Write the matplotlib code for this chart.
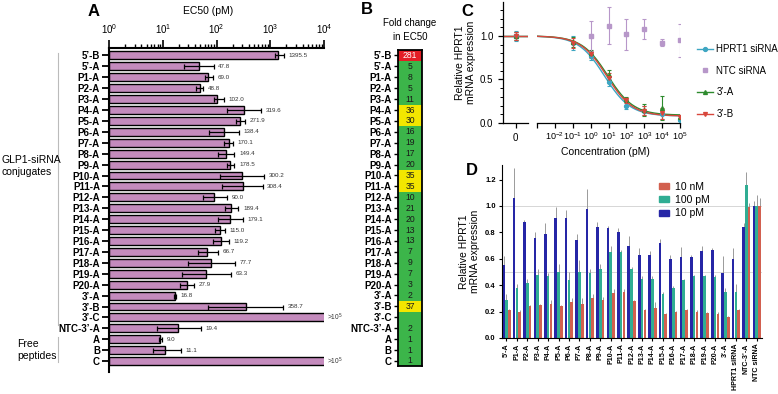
import numpy as np
import matplotlib
matplotlib.use('Agg')
import matplotlib.pyplot as plt
from matplotlib.ticker import LogLocator, NullFormatter, FixedLocator, MultipleLocator, FixedFormatter
from matplotlib.patches import Patch
from matplotlib.lines import Line2D

plt.rcParams['font.family'] = ['Liberation Sans', 'DejaVu Sans']
plt.rcParams['mathtext.fontset'] = 'custom'
plt.rcParams['mathtext.rm'] = 'Liberation Sans'
plt.rcParams['mathtext.it'] = 'Liberation Sans:italic'
plt.rcParams['mathtext.bf'] = 'Liberation Sans:bold'
plt.rcParams['mathtext.default'] = 'regular'

# ---------------- Panel A data ----------------
a_labels = ["5’-B", "5’-A", "P1-A", "P2-A", "P3-A", "P4-A", "P5-A", "P6-A", "P7-A", "P8-A",
            "P9-A", "P10-A", "P11-A", "P12-A", "P13-A", "P14-A", "P15-A", "P16-A", "P17-A",
            "P18-A", "P19-A", "P20-A", "3’-A", "3’-B", "3’-C", "NTC-3’-A", "A", "B", "C"]
ec50 = [1395.5, 47.8, 69.0, 48.8, 102.0, 319.6, 271.9, 138.4, 170.1, 149.4,
        178.5, 300.2, 308.4, 90.0, 189.4, 179.1, 115.0, 119.2, 66.7,
        77.7, 63.3, 27.9, 16.8, 358.7, 1e5, 19.4, 9.0, 11.1, 1e5]
ec50_lo = [1250, 25, 60, 42, 88, 155, 235, 72, 140, 108,
           160, 115, 125, 55, 145, 108, 95, 86, 45,
           29, 23, 21, 16.2, 70, np.nan, 7.7, 8.6, 6.5, np.nan]
ec50_hi = [1800, 88, 85, 57, 135, 680, 340, 265, 200, 215,
           215, 760, 720, 160, 255, 310, 142, 170, 107,
           220, 183, 38, 17.6, 1750, np.nan, 51, 9.6, 22, np.nan]
ec50_text = ["1395.5", "47.8", "69.0", "48.8", "102.0", "319.6", "271.9", "138.4", "170.1", "149.4",
             "178.5", "300.2", "308.4", "90.0", "189.4", "179.1", "115.0", "119.2", "66.7",
             "77.7", "63.3", "27.9", "16.8", "358.7", ">10$^5$", "19.4", "9.0", "11.1", ">10$^5$"]

# ---------------- Panel B data ----------------
fold_change = [281, 5, 8, 5, 11, 36, 30, 16, 19, 17, 20, 35, 35, 10, 21, 20, 13, 13, 7, 9, 7,
               3, 2, 37, np.nan, 2, 1, 1, 1]

# ---------------- Panel C data ----------------
conc = [0, 0.1, 1, 10, 100, 1000, 1e4, 1e5]
hprt_mean = [1.00, 0.92, 0.77, 0.47, 0.20, 0.14, 0.10, 0.04]
hprt_err = [0.06, 0.08, 0.05, 0.04, 0.04, 0.05, 0.05, 0.02]
a3_mean = [1.00, 0.93, 0.80, 0.55, 0.27, 0.15, 0.17, 0.07]
a3_err = [0.05, 0.06, 0.04, 0.06, 0.03, 0.07, 0.14, 0.02]
b3_mean = [1.00, 0.92, 0.79, 0.52, 0.26, 0.14, 0.11, 0.07]
b3_err = [0.05, 0.06, 0.04, 0.05, 0.03, 0.05, 0.06, 0.02]
ntc_conc = [0, 1, 10, 100, 1000, 1e4, 1e5]
ntc_mean = [1.00, 1.00, 1.12, 1.02, 1.08, 0.92, 0.95]
ntc_err = [0.05, 0.17, 0.21, 0.18, 0.12, 0.04, 0.19]
# fitted 4PL parameters: bottom, top, EC50 (pM), hill
fit_hprt = [0.08, 1.0, 6.0, 0.6]
fit_a3 = [0.09, 1.0, 9.0, 0.6]
fit_b3 = [0.08, 1.0, 8.0, 0.6]

# ---------------- Panel D data ----------------
d_labels = ["5’-A", "P1-A", "P2-A", "P3-A", "P4-A", "P5-A", "P6-A", "P7-A", "P8-A", "P9-A",
            "P10-A", "P11-A", "P12-A", "P13-A", "P14-A", "P15-A", "P16-A", "P17-A", "P18-A",
            "P19-A", "P20-A", "3’-A", "HPRT1 siRNA", "NTC-3’-A", "NTC siRNA"]
d_10pM = [0.55, 1.06, 0.88, 0.76, 0.79, 0.91, 0.91, 0.74, 0.98, 0.84, 0.83, 0.80, 0.70,
          0.63, 0.63, 0.72, 0.60, 0.61, 0.61, 0.66, 0.67, 0.49, 0.60, 0.84, 1.00]
d_10pM_err = [0.07, 0.23, 0.01, 0.04, 0.08, 0.08, 0.06, 0.05, 0.15, 0.04, 0.02, 0.03, 0.07,
              0.05, 0.03, 0.03, 0.03, 0.08, 0.02, 0.04, 0.01, 0.13, 0.08, 0.03, 0.04]
d_100pM = [0.29, 0.38, 0.42, 0.48, 0.47, 0.50, 0.44, 0.50, 0.49, 0.52, 0.65, 0.65, 0.52,
           0.45, 0.45, 0.33, 0.38, 0.44, 0.47, 0.47, 0.46, 0.35, 0.35, 1.16, 1.00]
d_100pM_err = [0.04, 0.03, 0.03, 0.04, 0.02, 0.06, 0.06, 0.09, 0.03, 0.04, 0.05, 0.02, 0.02,
               0.02, 0.02, 0.02, 0.01, 0.01, 0.01, 0.01, 0.02, 0.03, 0.06, 0.10, 0.08]
d_10nM = [0.21, 0.20, 0.24, 0.25, 0.26, 0.24, 0.27, 0.26, 0.30, 0.29, 0.34, 0.35, 0.28,
          0.21, 0.23, 0.18, 0.20, 0.21, 0.20, 0.19, 0.18, 0.16, 0.21, 0.99, 1.00]
d_10nM_err = [0.01, 0.01, 0.01, 0.01, 0.03, 0.01, 0.03, 0.04, 0.03, 0.02, 0.03, 0.02, 0.01,
              0.01, 0.04, 0.01, 0.005, 0.01, 0.01, 0.005, 0.02, 0.01, 0.01, 0.03, 0.06]

W, H = 778, 394
fig = plt.figure(figsize=(W / 100, H / 100), dpi=100)


def ax_px(l, t, r, b):
    return fig.add_axes([l / W, 1 - b / H, (r - l) / W, (b - t) / H])


# ================= Panel A =================
axA = ax_px(109, 48, 324, 372)
n = len(a_labels)
y = np.arange(n)
bar_col = '#c48bbd'
vals = np.array(ec50)
axA.barh(y, vals - 1, left=1, height=0.72, color=bar_col, edgecolor='black', linewidth=1.0, zorder=2)
lo = np.array(ec50_lo)
hi = np.array(ec50_hi)
m = ~np.isnan(lo)
axA.errorbar(vals[m], y[m], xerr=[vals[m] - lo[m], hi[m] - vals[m]], fmt='none', ecolor='black',
             elinewidth=0.9, capsize=1.8, capthick=0.9, zorder=3)
for i in range(n):
    if np.isnan(lo[i]):
        axA.text(1.015, y[i], ec50_text[i], transform=axA.get_yaxis_transform(), fontsize=4.8,
                 va='center', ha='left', color='#333333')
    else:
        axA.text(hi[i] * 1.22, y[i], ec50_text[i], fontsize=4.5, va='center', ha='left', color='#333333')
axA.set_xscale('log')
axA.set_xlim(1, 1e4)
axA.set_ylim(29.0, -0.68)
axA.xaxis.tick_top()
axA.xaxis.set_major_locator(LogLocator(base=10, numticks=10))
axA.xaxis.set_minor_locator(LogLocator(base=10, subs=np.arange(2, 10), numticks=20))
axA.xaxis.set_minor_formatter(NullFormatter())
axA.tick_params(axis='x', which='major', length=6, width=1.2, labelsize=7, pad=3, direction='out')
axA.tick_params(axis='x', which='minor', length=3, width=1.0, direction='out')
axA.set_yticks(y)
axA.set_yticklabels(a_labels, fontsize=7, fontweight='bold')
axA.tick_params(axis='y', length=5, width=1.3, pad=1.5)
for s in ['right', 'bottom']:
    axA.spines[s].set_visible(False)
for s in ['top', 'left']:
    axA.spines[s].set_linewidth(1.5)
fig.text(208 / W, 1 - 11 / H, 'EC50 (pM)', fontsize=7.5, ha='center', va='center')

fig.text(94 / W, 1 - 11 / H, 'A', fontsize=12, fontweight='bold', ha='center', va='center')

# group labels
fig.text(2 / W, 1 - 166 / H, 'GLP1-siRNA\nconjugates', fontsize=7.5, ha='left', va='center', linespacing=1.3)
fig.text(17 / W, 1 - 350 / H, 'Free\npeptides', fontsize=7.5, ha='left', va='center', linespacing=1.3)
fig.add_artist(Line2D([58 / W, 58 / W], [1 - 53 / H, 1 - 325 / H], color='#bbbbbb', lw=0.8))
fig.add_artist(Line2D([58 / W, 58 / W], [1 - 337 / H, 1 - 362 / H], color='#bbbbbb', lw=0.8))

# ================= Panel B =================
axB = ax_px(398, 50, 422, 366.4)
fc = np.array(fold_change, dtype=float)
green, yellow, red = '#3cb54a', '#f3e600', '#e41e26'
for i, v in enumerate(fc):
    if np.isnan(v) or v < 25:
        c = green
    elif v < 100:
        c = yellow
    else:
        c = red
    axB.add_patch(plt.Rectangle((0, i - 0.5), 1, 1, facecolor=c, edgecolor='none'))
    if not np.isnan(v):
        axB.text(0.5, i, f'{int(v)}', ha='center', va='center', fontsize=6.2,
                 color='white' if c == red else '#1a1a1a')
axB.set_xlim(0, 1)
axB.set_ylim(n - 0.5, -0.5)
axB.set_xticks([])
axB.set_yticks(y)
axB.set_yticklabels(a_labels, fontsize=7, fontweight='bold')
axB.tick_params(axis='y', length=3, width=1.0, pad=1.5)
for s in axB.spines.values():
    s.set_linewidth(1.3)
fig.text(367 / W, 1 - 9 / H, 'B', fontsize=12, fontweight='bold', ha='center', va='center')
fig.text(410 / W, 1 - 30 / H, 'Fold change\nin EC50', fontsize=7, ha='center', va='center', linespacing=1.4)

# ================= Panel C =================
c_hprt, c_ntc, c_a3, c_b3 = '#3ea6c2', '#b797c9', '#2e8b2e', '#d8473c'
axC0 = ax_px(503, 2, 528, 123)
axC1 = ax_px(537, 2, 680, 123)
ylimC = (0, 1.39)


def fourpl(x, p):
    b, t, ec, h = p
    return b + (t - b) / (1 + (x / ec) ** h)


xs = np.logspace(-3, 5, 300)
series = [(hprt_mean, hprt_err, c_hprt, 'o', fit_hprt, 'HPRT1 siRNA'),
          (a3_mean, a3_err, c_a3, '^', fit_a3, '3’-A'),
          (b3_mean, b3_err, c_b3, 'v', fit_b3, '3’-B')]
for mean, err, col, mk, fit, lab in series:
    axC1.plot(xs, fourpl(xs, fit), color=col, lw=1.0, zorder=2)
    axC0.plot([-1, 1], [fourpl(1e-6, fit)] * 2, color=col, lw=1.0, zorder=2)
    axC1.errorbar(conc[1:], mean[1:], yerr=err[1:], fmt=mk, color=col, ms=2.8, elinewidth=0.8,
                  capsize=1.5, capthick=0.8, zorder=3)
    axC0.errorbar([0], mean[:1], yerr=err[:1], fmt=mk, color=col, ms=2.8, elinewidth=0.8,
                  capsize=1.5, capthick=0.8, zorder=3)
axC1.errorbar(ntc_conc[1:], ntc_mean[1:], yerr=ntc_err[1:], fmt='s', color=c_ntc, ms=2.6,
              elinewidth=0.8, capsize=1.5, capthick=0.8, zorder=3)
axC0.errorbar([0], ntc_mean[:1], yerr=ntc_err[:1], fmt='s', color=c_ntc, ms=2.6,
              elinewidth=0.8, capsize=1.5, capthick=0.8, zorder=1)

axC0.set_xlim(-1, 1)
axC0.set_ylim(*ylimC)
axC0.set_xticks([0])
axC0.set_xticklabels(['0'])
axC0.set_yticks([0, 0.5, 1.0])
axC0.set_yticklabels(['0.0', '0.5', '1.0'])
axC0.yaxis.set_minor_locator(MultipleLocator(0.1))
axC0.tick_params(axis='both', which='major', labelsize=7, length=3.5, width=0.9)
axC0.tick_params(axis='y', which='minor', length=2, width=0.7)
for s in ['top', 'right']:
    axC0.spines[s].set_visible(False)
axC0.set_ylabel('Relative HPRT1\nmRNA expression', fontsize=7.5, labelpad=3, linespacing=1.1)

axC1.set_xscale('log')
axC1.set_xlim(1e-3, 1e5)
axC1.set_ylim(*ylimC)
dec = [1e-3, 1e-2, 1e-1, 1, 10, 100, 1e3, 1e4, 1e5]
axC1.xaxis.set_major_locator(FixedLocator(dec))
axC1.xaxis.set_major_formatter(FixedFormatter(['', '10$^{-2}$', '10$^{-1}$', '10$^0$', '10$^1$',
                                               '10$^2$', '10$^3$', '10$^4$', '10$^5$']))
axC1.xaxis.set_minor_locator(FixedLocator([]))
axC1.tick_params(axis='x', which='major', labelsize=6.5, length=3.5, width=0.9, pad=2)
axC1.set_yticks([])
for s in ['top', 'right', 'left']:
    axC1.spines[s].set_visible(False)
axC1.set_xlabel('Concentration (pM)', fontsize=7.5, labelpad=3)
axC1.xaxis.set_label_coords((605 - 537) / (680 - 537), -0.2)
for a in (axC0, axC1):
    a.spines['bottom'].set_linewidth(0.9)
axC0.spines['left'].set_linewidth(0.9)

leg_handles = [Line2D([], [], color=c_hprt, marker='o', ms=2.8, lw=1.0),
               Line2D([], [], color=c_ntc, marker='s', ms=2.6, lw=0),
               Line2D([], [], color=c_a3, marker='^', ms=2.8, lw=1.0),
               Line2D([], [], color=c_b3, marker='v', ms=2.8, lw=1.0)]
fig.legend(leg_handles, ['HPRT1 siRNA', 'NTC siRNA', '3’-A', '3’-B'], loc='upper left',
           bbox_to_anchor=(697 / W, 1 - 44 / H), frameon=False, fontsize=7, handlelength=1.6,
           labelspacing=1.2, handletextpad=0.4, borderpad=0, borderaxespad=0)
fig.text(467 / W, 1 - 12 / H, 'C', fontsize=12, fontweight='bold', ha='center', va='center')

# ================= Panel D =================
axD = ax_px(502, 165, 762, 338)
xd = np.arange(len(d_labels))
bw, off = 0.25, 0.27
c_blue, c_green, c_red = '#2626a6', '#30ad93', '#d2604f'
axD.axhline(1.0, color='#d0d0d0', lw=0.6, zorder=0)
axD.axhline(0.5, color='#d0d0d0', lw=0.6, zorder=0)
for dx, vals_, errs_, col in [(-off, d_10pM, d_10pM_err, c_blue), (0, d_100pM, d_100pM_err, c_green),
                              (off, d_10nM, d_10nM_err, c_red)]:
    axD.bar(xd + dx, vals_, width=bw, color=col, zorder=2, linewidth=0)
    axD.vlines(xd + dx, vals_, np.array(vals_) + np.array(errs_), color='#9a9a9a', lw=0.7, zorder=1)
axD.set_xlim(-0.42, 24.5)
axD.set_ylim(0, 1.31)
axD.set_yticks(np.arange(0, 1.21, 0.2))
axD.set_yticklabels([f'{v:.1f}' for v in np.arange(0, 1.21, 0.2)], fontsize=5.5, fontweight='bold')
axD.set_xticks(xd)
axD.set_xticklabels(d_labels, rotation=90, fontsize=5.1, fontweight='bold')
axD.tick_params(axis='x', length=2.5, width=0.8, pad=1.5)
axD.tick_params(axis='y', length=2.5, width=0.8, pad=2)
for s in ['top', 'right']:
    axD.spines[s].set_visible(False)
for s in ['left', 'bottom']:
    axD.spines[s].set_linewidth(0.8)
axD.set_ylabel('Relative HPRT1\nmRNA expression', fontsize=7.5, labelpad=4, linespacing=1.1)
d_handles = [Patch(color=c_red), Patch(color=c_green), Patch(color=c_blue)]
fig.legend(d_handles, ['10 nM', '100 pM', '10 pM'], loc='upper left', bbox_to_anchor=(659 / W, 1 - 182 / H),
           frameon=False, fontsize=7.5, handlelength=1.0, handleheight=0.5, labelspacing=0.3,
           handletextpad=0.5, borderpad=0, borderaxespad=0)
fig.text(472 / W, 1 - 170 / H, 'D', fontsize=12, fontweight='bold', ha='center', va='center')

fig.savefig('out.png', dpi=100)
